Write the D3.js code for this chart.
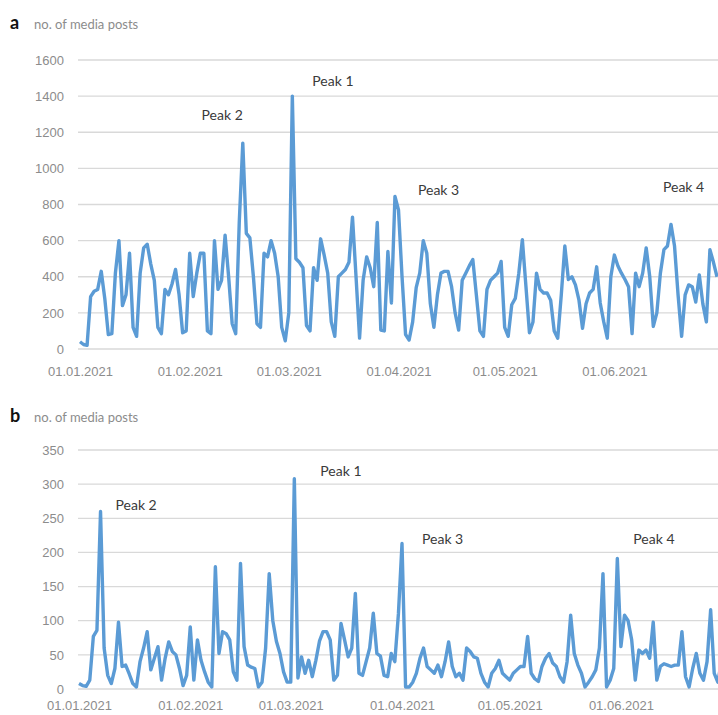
<!DOCTYPE html>
<html>
<head>
<meta charset="utf-8">
<script src="https://cdn.jsdelivr.net/npm/d3@7"></script>
<style>
  body { margin: 0; background: #fff; }
  svg { display: block; font-family: Lato, "Liberation Sans", sans-serif; }
</style>
</head>
<body>
<svg id="chart" width="718" height="715"></svg>
<script>
// daily media posts, 01.01.2021 - 30.06.2021
const postsA = [
  40, 25, 20, 290, 320, 330, 430, 280, 80, 85,
  420, 600, 240, 300, 530, 120, 70, 420, 560, 580,
  470, 380, 120, 85, 330, 300, 360, 440, 300, 90,
  100, 530, 290, 420, 530, 530, 100, 85, 600, 330,
  380, 630, 400, 140, 85, 700, 1140, 640, 615, 400,
  140, 120, 530, 510, 600, 530, 400, 120, 45, 200,
  1400, 500, 480, 450, 130, 100, 450, 380, 610, 520,
  420, 150, 70, 400, 420, 440, 480, 730, 400, 60,
  380, 510, 450, 345, 700, 105, 100, 540, 255, 845,
  770, 400, 80, 50, 150, 340, 420, 600, 530, 250,
  120, 300, 420, 430, 430, 345, 200, 105, 380, 420,
  460, 495, 300, 100, 70, 330, 380, 400, 420, 485,
  120, 70, 245, 280, 420, 605, 350, 90, 150, 420,
  330, 310, 310, 270, 100, 60, 300, 570, 385, 400,
  355, 270, 115, 250, 310, 330, 455, 255, 150, 60,
  400, 520, 460, 420, 385, 345, 85, 420, 345, 420,
  560, 400, 125, 200, 420, 550, 570, 690, 570, 300,
  70, 300, 355, 345, 260, 410, 250, 150, 550, 480,
  400
];
const postsB = [
  8, 5, 4, 13, 77, 86, 260, 60, 20, 8,
  30, 98, 33, 35, 22, 8, 3, 40, 60, 84,
  28, 45, 62, 13, 45, 69, 55, 50, 30, 5,
  20, 91, 13, 72, 42, 25, 10, 3, 179, 52,
  84, 81, 72, 25, 13, 184, 62, 35, 32, 30,
  3, 10, 60, 169, 100, 70, 52, 25, 10, 10,
  308, 16, 47, 23, 42, 18, 42, 70, 84, 84,
  72, 13, 20, 96, 72, 47, 60, 140, 23, 20,
  40, 60, 111, 52, 48, 20, 18, 52, 40, 110,
  213, 3, 3, 10, 23, 45, 60, 33, 28, 23,
  35, 18, 40, 69, 33, 18, 23, 13, 60, 55,
  47, 45, 23, 10, 3, 23, 30, 42, 23, 18,
  13, 23, 28, 33, 33, 77, 23, 15, 11, 33,
  45, 52, 38, 33, 18, 10, 40, 108, 52, 35,
  23, 3, 10, 18, 28, 60, 169, 3, 13, 30,
  191, 62, 108, 100, 72, 13, 57, 52, 57, 45,
  98, 13, 33, 37, 35, 33, 35, 35, 84, 18,
  3, 30, 52, 23, 13, 40, 116, 23, 10, 40,
  30
];
const ticksA = [0, 200, 400, 600, 800, 1000, 1200, 1400, 1600];
const ticksB = [0, 50, 100, 150, 200, 250, 300, 350];
const monthTicks = ["2021-01-01", "2021-02-01", "2021-03-01", "2021-04-01", "2021-05-01", "2021-06-01"];
const peakNames = ["Peak 1", "Peak 2", "Peak 3", "Peak 4"];
const peakDaysA = [60, 46, 89, 167];
const peakDaysB = [60, 6, 90, 150];

const parse = d3.timeParse("%Y-%m-%d");
const fmt = d3.timeFormat("%d.%m.%Y");
const start = parse("2021-01-01");
const dates = postsA.map((_, i) => d3.timeDay.offset(start, i));

const svg = d3.select("#chart");

function panel(cfg) {
  const g = svg.append("g");
  const x = d3.scaleTime()
    .domain([dates[0], dates[dates.length - 1]])
    .range(cfg.xRange);
  const y = d3.scaleLinear()
    .domain([0, d3.max(cfg.ticks)])
    .range(cfg.yRange);

  // horizontal gridlines
  g.append("g")
    .selectAll("line")
    .data(cfg.ticks)
    .join("line")
    .attr("x1", 78)
    .attr("x2", 740)
    .attr("y1", d => y(d))
    .attr("y2", d => y(d))
    .attr("stroke", "#d9d9d9")
    .attr("stroke-width", 1.3);

  const yAxis = g.append("g")
    .attr("transform", `translate(64,0)`)
    .call(d3.axisLeft(y).tickValues(cfg.ticks).tickFormat(d3.format("d")).tickSize(0).tickPadding(0));
  yAxis.select(".domain").remove();
  yAxis.selectAll("text")
    .attr("fill", "#8c8c8c")
    .attr("font-size", 13);

  const xAxis = g.append("g")
    .attr("transform", `translate(0,${cfg.yRange[0]})`)
    .call(d3.axisBottom(x).tickValues(monthTicks.map(parse)).tickFormat(fmt).tickSize(0).tickPadding(cfg.xPad));
  xAxis.select(".domain").remove();
  xAxis.selectAll("text")
    .attr("fill", "#8c8c8c")
    .attr("font-size", 13);

  const line = d3.line()
    .x((d, i) => x(dates[i]))
    .y(d => y(d));

  g.append("path")
    .datum(cfg.values)
    .attr("fill", "none")
    .attr("stroke", "#5b9bd5")
    .attr("stroke-width", 3.4)
    .attr("stroke-linejoin", "round")
    .attr("d", line);

  // panel letter and axis title
  g.append("text")
    .attr("x", 10)
    .attr("y", cfg.titleY)
    .attr("font-size", 18)
    .attr("font-weight", "bold")
    .attr("fill", "#111")
    .text(cfg.letter);
  g.append("text")
    .attr("x", 34)
    .attr("y", cfg.titleY)
    .attr("font-size", 13)
    .attr("fill", "#8c8c8c")
    .text("no. of media posts");

  // peak annotations
  g.selectAll(".peak")
    .data(cfg.peakDays)
    .join("text")
    .attr("class", "peak")
    .attr("x", (d, i) => x(dates[d]) + cfg.peakDx[i])
    .attr("y", (d, i) => y(cfg.values[d]) + cfg.peakDy[i])
    .attr("text-anchor", (d, i) => cfg.peakAnchor[i])
    .attr("font-size", 14)
    .attr("fill", "#3a3a3a")
    .text((d, i) => peakNames[i]);
}

panel({
  letter: "a",
  values: postsA,
  ticks: ticksA,
  xRange: [80, 717],
  yRange: [349, 60],
  xPad: 18,
  titleY: 29,
  peakDays: peakDaysA,
  peakDx: [20, 0, 23, -8],
  peakDy: [-10, -23, -1, -32],
  peakAnchor: ["start", "end", "start", "start"]
});

panel({
  letter: "b",
  values: postsB,
  ticks: ticksB,
  xRange: [79, 725],
  yRange: [689, 450],
  xPad: 12,
  titleY: 422,
  peakDays: peakDaysB,
  peakDx: [26, 15, 20, 16],
  peakDy: [-3, -1, 0, -15],
  peakAnchor: ["start", "start", "start", "start"]
});
</script>
</body>
</html>
